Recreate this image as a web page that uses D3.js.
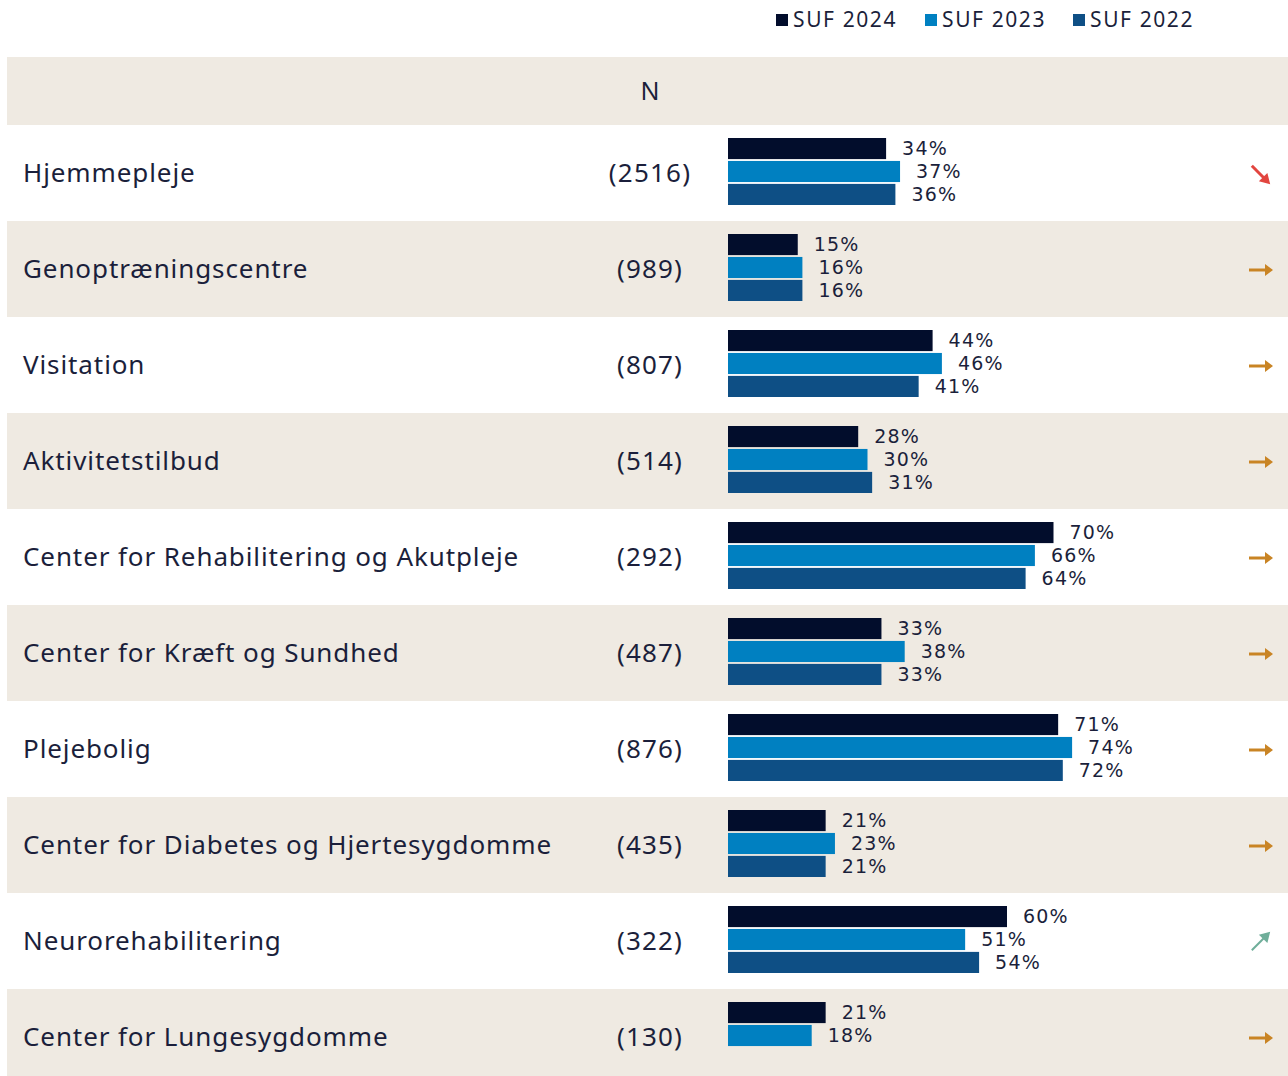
<!DOCTYPE html>
<html>
<head>
<meta charset="utf-8">
<script src="https://cdn.jsdelivr.net/npm/d3@7"></script>
<style>
  body { margin: 0; background: #fff; }
  svg { display: block; font-family: "Noto Sans", sans-serif; }
</style>
</head>
<body>
<div id="chart"></div>
<script>
var categories = ["Hjemmepleje", "Genoptræningscentre", "Visitation", "Aktivitetstilbud",
	"Center for Rehabilitering og Akutpleje", "Center for Kræft og Sundhed", "Plejebolig",
	"Center for Diabetes og Hjertesygdomme", "Neurorehabilitering", "Center for Lungesygdomme"];
var nValues = [2516, 989, 807, 514, 292, 487, 876, 435, 322, 130];
var seriesNames = ["SUF 2024", "SUF 2023", "SUF 2022"];
var suf2024 = [34, 15, 44, 28, 70, 33, 71, 21, 60, 21];
var suf2023 = [37, 16, 46, 30, 66, 38, 74, 23, 51, 18];
var suf2022 = [36, 16, 41, 31, 64, 33, 72, 21, 54, null];
var trends = ["down", "flat", "flat", "flat", "flat", "flat", "flat", "flat", "up", "flat"];

var colors = ["#020d2c", "#0080c1", "#0e4f85"];
var trendColors = {down: "#e2453f", flat: "#c98424", up: "#6fae9a"};
var ink = "#1b1f3b";
var beige = "#efeae2";

var width = 1288, height = 1076;
var svg = d3.select("#chart").append("svg")
	.attr("width", width)
	.attr("height", height);

var series = [suf2024, suf2023, suf2022];

// row layout
var y = d3.scaleBand()
	.domain(categories)
	.range([125, 125 + 96 * categories.length])
	.paddingInner(0);

var yInner = d3.scaleBand()
	.domain(d3.range(3))
	.range([0, 67])
	.paddingInner(0.08);

var x = d3.scaleLinear()
	.domain([0, 100])
	.range([728, 1193]);

// legend
var legendX = [776, 925, 1073];
var legend = svg.append("g").attr("class", "legend");
seriesNames.forEach(function(name, i) {
	legend.append("rect")
		.attr("x", legendX[i]).attr("y", 14)
		.attr("width", 12).attr("height", 12)
		.attr("fill", colors[i]);
	legend.append("text")
		.attr("x", legendX[i] + 17).attr("y", 20)
		.attr("dy", "0.35em")
		.attr("font-size", 21)
		.attr("letter-spacing", 1.6)
		.attr("fill", ink)
		.text(name);
});

// header band
svg.append("rect")
	.attr("x", 7).attr("y", 57)
	.attr("width", width - 7).attr("height", 68)
	.attr("fill", beige);
svg.append("text")
	.attr("x", 650).attr("y", 91)
	.attr("dy", "0.35em")
	.attr("text-anchor", "middle")
	.attr("font-size", 25)
	.attr("fill", ink)
	.text("N");

// row backgrounds
svg.selectAll("rect.rowbg")
	.data(categories)
	.enter()
	.append("rect")
		.attr("class", "rowbg")
		.attr("x", 7)
		.attr("y", function(d) { return y(d); })
		.attr("width", width - 7)
		.attr("height", y.bandwidth())
		.attr("fill", function(d, i) { return i % 2 ? beige : "#fff"; });

var rows = svg.selectAll("g.row")
	.data(categories)
	.enter()
	.append("g")
		.attr("class", "row")
		.attr("transform", function(d) { return "translate(0," + y(d) + ")"; });

rows.append("text")
	.attr("x", 23)
	.attr("y", 48)
	.attr("dy", "0.35em")
	.attr("font-size", 26)
	.attr("letter-spacing", 0.9)
	.attr("fill", ink)
	.text(function(d) { return d; });

rows.append("text")
	.attr("x", 650)
	.attr("y", 48)
	.attr("dy", "0.35em")
	.attr("text-anchor", "middle")
	.attr("font-size", 26)
	.attr("letter-spacing", 1.2)
	.attr("fill", ink)
	.text(function(d, i) { return "(" + nValues[i] + ")"; });

// bars and value labels
rows.each(function(cat, ci) {
	var g = d3.select(this);
	var vals = series.map(function(s, si) { return {v: s[ci], s: si}; })
		.filter(function(d) { return d.v != null; });
	g.selectAll("rect.bar")
		.data(vals)
		.enter()
		.append("rect")
			.attr("class", "bar")
			.attr("x", x(0))
			.attr("y", function(d) { return 13 + yInner(d.s); })
			.attr("width", function(d) { return x(d.v) - x(0); })
			.attr("height", yInner.bandwidth())
			.attr("fill", function(d) { return colors[d.s]; });
	g.selectAll("text.val")
		.data(vals)
		.enter()
		.append("text")
			.attr("class", "val")
			.attr("x", function(d) { return x(d.v) + 16; })
			.attr("y", function(d) { return 13 + yInner(d.s) + yInner.bandwidth() / 2; })
			.attr("dy", "0.35em")
			.attr("font-size", 19)
			.attr("font-family", "'DejaVu Sans', sans-serif")
			.attr("letter-spacing", 1.2)
			.attr("fill", ink)
			.text(function(d) { return d.v + "%"; });
});

// trend arrows
rows.each(function(cat, ci) {
	var g = d3.select(this);
	var t = trends[ci];
	var col = trendColors[t];
	var a = g.append("g");
	if (t === "flat") {
		a.attr("transform", "translate(1261,49)");
		a.append("line").attr("x1", -12).attr("y1", 0).attr("x2", 5).attr("y2", 0)
			.attr("stroke", col).attr("stroke-width", 3);
		a.append("path").attr("d", "M4,-6 L12,0 L4,6 Z").attr("fill", col);
	} else {
		var rot = t === "down" ? 45 : -45;
		a.attr("transform", "translate(1261," + (t === "down" ? 50 : 48) + ") rotate(" + rot + ")");
		var c = t === "down" ? 3 : 2;
		a.append("line").attr("x1", -13).attr("y1", 0).attr("x2", 6).attr("y2", 0)
			.attr("stroke", col).attr("stroke-width", c);
		a.append("path").attr("d", "M3,-6 L13,0 L3,6 Z").attr("fill", col);
	}
});
</script>
</body>
</html>
